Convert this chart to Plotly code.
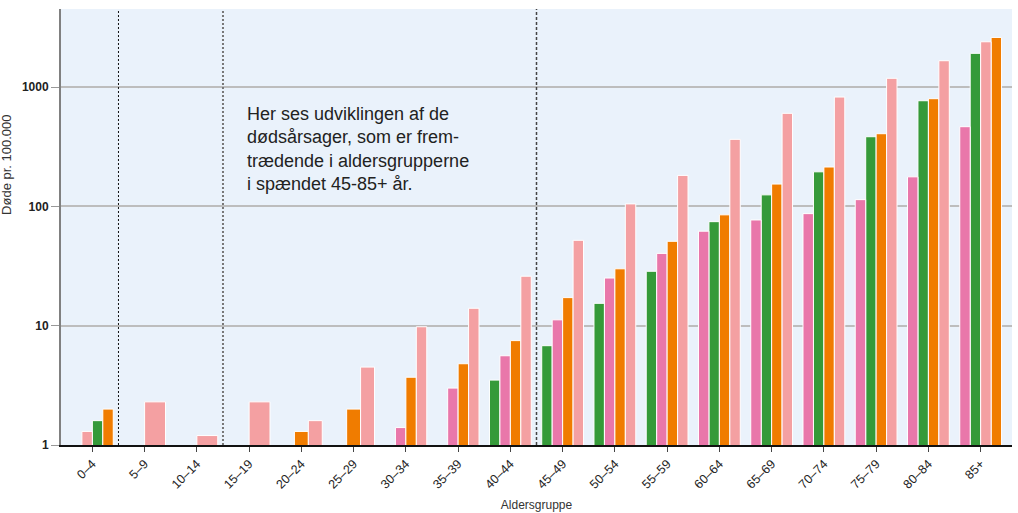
import plotly.graph_objects as go

# Age groups and death rates per 100,000 for four causes of death.
# 0 = recorded as zero (keeps its slot in the group), None = not reported.
ages = ["0–4", "5–9", "10–14", "15–19", "20–24", "25–29", "30–34", "35–39",
        "40–44", "45–49", "50–54", "55–59", "60–64", "65–69", "70–74",
        "75–79", "80–84", "85+"]

cause_green = [1.6, 0, 0, 0, 0, 0, 0, 0, 3.5, 6.8, 15.4, 28.6, 74.5, 125,
               195, 384, 769, 1920]
cause_pink = [0, None, None, None, None, None, 1.4, 3.0, 5.6, 11.2, 25.1,
              40.4, 62, 77, 87, 114, 177, 466]
cause_orange = [2.0, None, None, None, 1.3, 2.0, 3.7, 4.8, 7.5, 17.2, 30,
                51, 85, 154, 214, 407, 800, 2610]
cause_rose = [1.3, 2.3, 1.2, 2.3, 1.6, 4.5, 9.8, 14.0, 26, 52, 105, 182,
              365, 603, 826, 1186, 1665, 2400]

series = [
    ("Dødsårsag A", cause_green, "#359a39"),
    ("Dødsårsag B", cause_pink, "#e977aa"),
    ("Dødsårsag C", cause_orange, "#f07c00"),
    ("Dødsårsag D", cause_rose, "#f4a0a2"),
]

y_ticks = [1, 10, 100, 1000]
dividers = [0.5, 2.5, 8.5]

GROUP_SPAN = 0.8

# Within each age group the bars are sorted by value (ascending) and share the
# group span evenly among all reported entries.
n_groups = len(ages)
offsets = {name: [None] * n_groups for name, _, _ in series}
widths = {name: [None] * n_groups for name, _, _ in series}
for i in range(n_groups):
    present = [(vals[i], name) for name, vals, _ in series if vals[i] is not None]
    present.sort(key=lambda t: t[0])
    w = GROUP_SPAN / len(present)
    for k, (_, name) in enumerate(present):
        offsets[name][i] = -GROUP_SPAN / 2 + k * w
        widths[name][i] = w

fig = go.Figure()
for name, vals, color in series:
    yv = [v if (v is not None and v > 0) else None for v in vals]
    off = [o if o is not None else 0 for o in offsets[name]]
    wd = [w if w is not None else 0.2 for w in widths[name]]
    fig.add_trace(go.Bar(
        name=name, x=ages, y=yv, offset=off, width=wd,
        marker=dict(color=color, line=dict(color="white", width=1)),
        showlegend=False,
    ))

div_styles = [
    dict(color="#111111", width=1, dash="2px,2px"),
    dict(color="#777777", width=2, dash="2px,2px"),
    dict(color="#444444", width=1.5, dash="3px,2px"),
]
for xv, st in zip(dividers, div_styles):
    fig.add_shape(type="line", xref="x", yref="paper", x0=xv, x1=xv,
                  y0=0, y1=1, line=st, layer="above")

fig.add_annotation(
    xref="paper", yref="paper", x=0.1935, y=0.786,
    xanchor="left", yanchor="top", align="left", showarrow=False,
    text=("Her ses udviklingen af de<br>dødsårsager, som er frem-<br>"
          "trædende i aldersgrupperne<br>i spændet 45-85+ år."),
    font=dict(family="Liberation Sans, Arial, sans-serif", size=18,
              color="#222222"),
)

fig.add_annotation(
    xref="paper", yref="paper", x=-0.058, y=0.642,
    xanchor="center", yanchor="middle", showarrow=False, textangle=-90,
    text="Døde pr. 100.000",
    font=dict(family="Liberation Sans, Arial, sans-serif", size=13,
              color="#333333"),
)

fig.update_layout(
    width=1018, height=513,
    margin=dict(l=61, r=6, t=9, b=68, autoexpand=False),
    paper_bgcolor="white", plot_bgcolor="#eaf2fb",
    barmode="overlay",
    font=dict(family="Liberation Sans, Arial, sans-serif", color="#222222"),
    xaxis=dict(
        type="category", range=[-0.6, 17.6], automargin=False,
        tickangle=-45, tickfont=dict(size=12.5, color="#222222"),
        ticks="outside", ticklen=5, tickcolor="#444444",
        showline=True, linecolor="#111111", linewidth=1.5,
        showgrid=False,
        title=dict(text="Aldersgruppe", font=dict(size=12, color="#333333"),
                   standoff=10),
    ),
    yaxis=dict(
        type="log", range=[0, 3.655], automargin=False,
        tickvals=y_ticks, ticktext=[str(v) for v in y_ticks],
        tickfont=dict(size=12, color="#222222", weight="bold"),
        ticks="outside", ticklen=8, tickcolor="#999999",
        showline=True, linecolor="#808080", linewidth=2,
        showgrid=True, gridcolor="#bdbdbd", gridwidth=1.5,
        zeroline=False,
    ),
)

fig.write_html("out.html")
